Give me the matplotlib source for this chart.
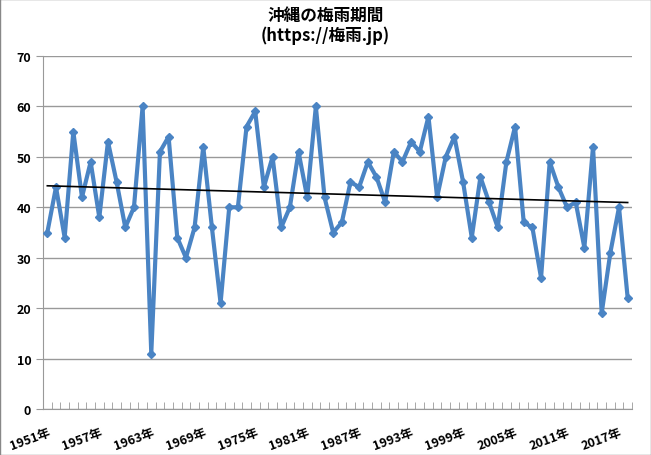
import matplotlib
matplotlib.use("Agg")
import matplotlib.pyplot as plt
import numpy as np

years = list(range(1951, 2019))
days = [35,44,34,55,42,49,38,53,45,36,40,60,11,51,54,34,30,36,52,36,21,40,40,56,59,44,50,36,40,51,42,60,42,35,37,45,44,49,46,41,51,49,53,51,58,42,50,54,45,34,46,41,36,49,56,37,36,26,49,44,40,41,32,52,19,31,40,22]
labels = [f"{y}年" for y in years]
title = "沖縄の梅雨期間\n(https://梅雨.jp)"

plt.rcParams["font.family"] = ["Noto Sans CJK JP"]
fig = plt.figure(figsize=(6.51, 4.56), dpi=100)
ax = fig.add_axes([43/651, 1-410/456, (632-43)/651, (410-57)/456])
x = np.arange(len(days))
ax.plot(x, days, color="#4a84c4", lw=3, marker="D", ms=4.5, zorder=3)
k, b = np.polyfit(x, days, 1)
ax.plot([x[0], x[-1]], [k*x[0]+b, k*x[-1]+b], color="black", lw=1.2, zorder=4)
ax.set_xlim(-0.5, len(days)-0.5)
ax.set_ylim(0, 70)
ax.set_yticks(range(0, 71, 10))
ax.yaxis.grid(True, color="#999999", lw=1)
ax.set_axisbelow(True)
ax.set_xticks(np.arange(-0.5, len(days), 1), minor=True)
ax.set_xticks(x[::6])
ax.set_xticklabels(labels[::6], rotation=20, ha="right", fontsize=9, fontweight="bold", rotation_mode="anchor")
ax.tick_params(axis="x", which="major", length=0, pad=12)
ax.tick_params(axis="x", which="minor", length=5, color="#999999", direction="in")
ax.tick_params(axis="y", length=5, color="#999999", labelsize=9)
for s in ["top", "right"]:
    ax.spines[s].set_visible(False)
for s in ["left", "bottom"]:
    ax.spines[s].set_color("#999999")
for t in ax.get_yticklabels():
    t.set_fontweight("bold")
fig.suptitle(title, y=0.985, fontsize=12, fontweight="bold", linespacing=1.1)
fig.patches.append(plt.Rectangle((0, 0), 1, 1, transform=fig.transFigure, fill=False, ec="#888888", lw=1))
fig.savefig("out.png", dpi=100)
